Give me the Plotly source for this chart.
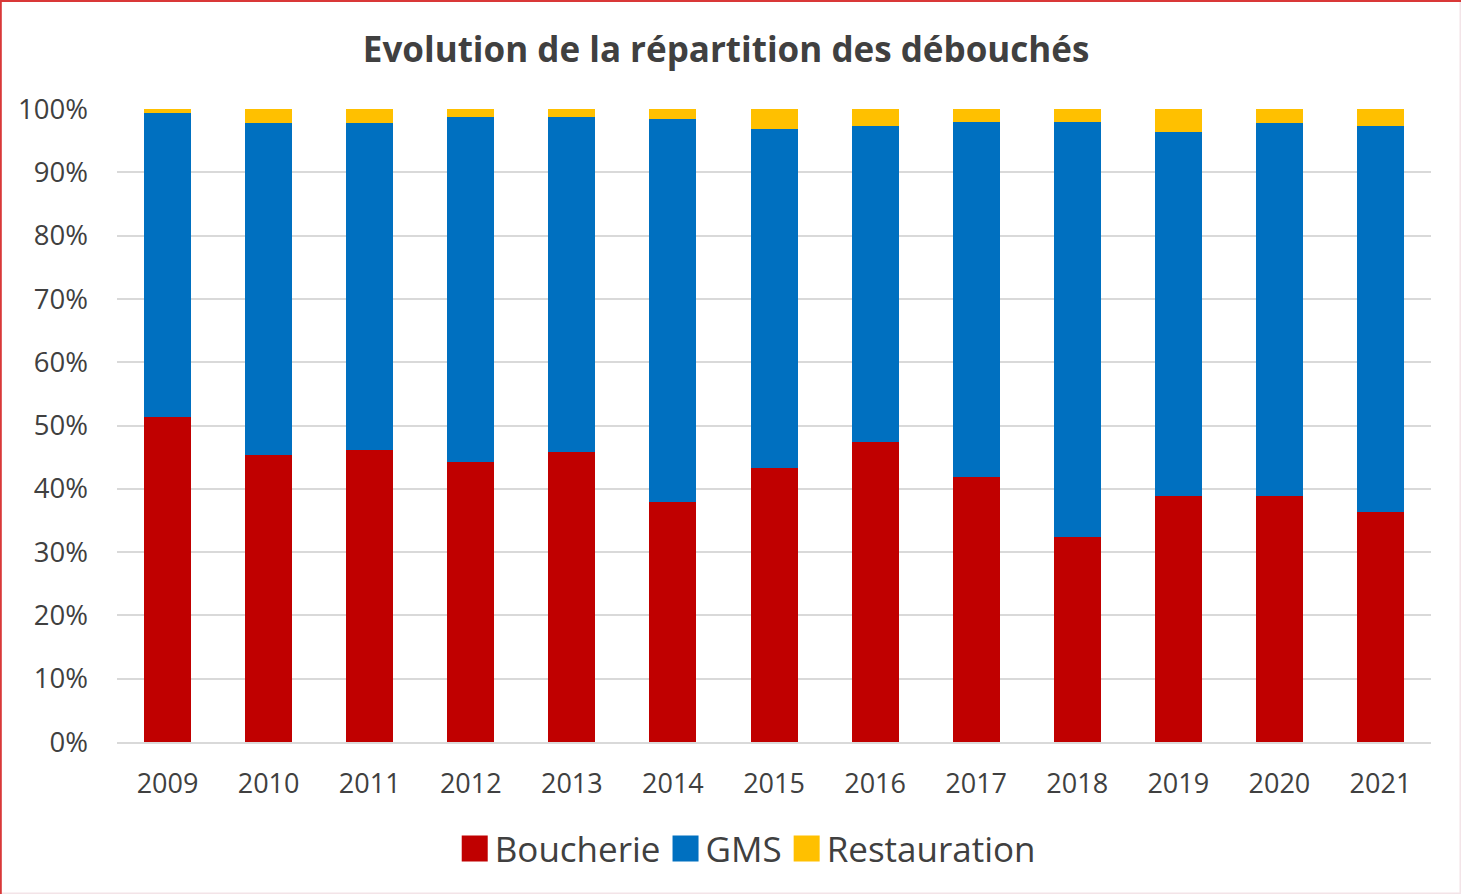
import plotly.graph_objects as go

years = ["2009", "2010", "2011", "2012", "2013", "2014", "2015",
         "2016", "2017", "2018", "2019", "2020", "2021"]
boucherie = [51.3, 45.3, 46.2, 44.3, 45.8, 37.9, 43.3, 47.4, 41.8, 32.4, 38.8, 38.8, 36.3]
gms = [48.1, 52.5, 51.6, 54.5, 53.0, 60.5, 53.5, 49.9, 56.1, 65.5, 57.6, 59.0, 61.0]
restauration = [0.6, 2.2, 2.2, 1.2, 1.2, 1.6, 3.2, 2.7, 2.1, 2.1, 3.6, 2.2, 2.7]

y_ticks = [0, 10, 20, 30, 40, 50, 60, 70, 80, 90, 100]
y_tick_labels = [f"{v}%" for v in y_ticks]

series = [
    ("Boucherie", boucherie, "#C00000"),
    ("GMS", gms, "#0070C0"),
    ("Restauration", restauration, "#FFC000"),
]

FONT = "Open Sans"
TXT = "#404040"

fig = go.Figure()
for name, vals, color in series:
    fig.add_trace(go.Bar(
        x=years, y=vals, name=name,
        marker=dict(color=color, line=dict(width=0)),
    ))

W, H = 1461, 894
ml, mr, mt, mb = 117, 30, 109, 152
pw, ph = W - ml - mr, H - mt - mb

fig.update_layout(
    width=W, height=H,
    barmode="stack",
    bargap=0.535,
    plot_bgcolor="white",
    paper_bgcolor="white",
    margin=dict(l=ml, r=mr, t=mt, b=mb, autoexpand=False),
    font=dict(family=FONT, color=TXT),
    title=dict(
        text="<b>Evolution de la répartition des débouchés</b>",
        x=0.497, xref="container", xanchor="center",
        y=0.944, yref="container", yanchor="middle",
        font=dict(family=FONT, size=35, color=TXT),
    ),
    xaxis=dict(
        type="category",
        showgrid=False,
        showline=True, linecolor="#D9D9D9", linewidth=2,
        ticks="", tickfont=dict(family=FONT, size=27, color=TXT),
        ticklabelstandoff=17,
    ),
    yaxis=dict(
        range=[0, 100],
        tickvals=y_ticks, ticktext=y_tick_labels,
        showgrid=True, gridcolor="#D9D9D9", gridwidth=2,
        zeroline=False, showline=False, ticks="",
        tickfont=dict(family=FONT, size=27.5, color=TXT),
        ticklabelstandoff=28,
    ),
    legend=dict(
        orientation="h", x=0.48, xanchor="center", y=-0.122, yanchor="top",
        font=dict(family=FONT, size=35, color=TXT),
        traceorder="normal", itemwidth=30,
    ),
    shapes=[
        dict(type="rect", xref="paper", yref="paper",
             x0=-ml / pw + 0.0004, x1=1 + mr / pw - 0.0004,
             y0=-mb / ph + 0.0008, y1=1 + mt / ph - 0.0008,
             line=dict(color="#F3E4E8", width=2), layer="above"),
        dict(type="line", xref="paper", yref="paper",
             x0=-ml / pw, x1=1 + mr / pw,
             y0=1 + mt / ph - 0.0012, y1=1 + mt / ph - 0.0012,
             line=dict(color="#D93838", width=2.5), layer="above"),
        dict(type="line", xref="paper", yref="paper",
             x0=-ml / pw + 0.0006, x1=-ml / pw + 0.0006,
             y0=-mb / ph, y1=1 + mt / ph,
             line=dict(color="#D93838", width=2), layer="above"),
    ],
)

post = """
document.body.style.margin='0px';
var gd = document.getElementById('{plot_id}');
function bigLegendSymbols(){
  gd.querySelectorAll('.legendpoints path').forEach(function(p){
    p.setAttribute('d','M13,13H-13V-13H13Z');
    p.setAttribute('stroke-linejoin','round');
  });
}
bigLegendSymbols();
gd.on('plotly_afterplot', bigLegendSymbols);
"""

fig.write_html("out.html", config={"displayModeBar": False}, post_script=post)
